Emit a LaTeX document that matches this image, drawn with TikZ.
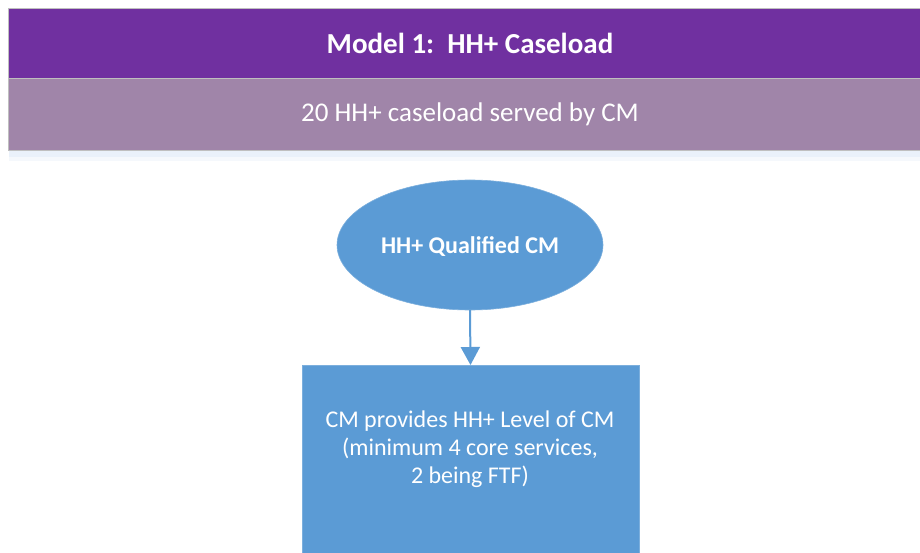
\documentclass[tikz,border=0pt]{standalone}
\usepackage{fontspec}
\setmainfont{Carlito}
\usetikzlibrary{arrows.meta}
\definecolor{hdrpurple}{HTML}{7030A0}
\definecolor{subpurple}{HTML}{A085A9}
\definecolor{cmblue}{HTML}{5B9BD5}
\definecolor{edgegray}{HTML}{BFBFBF}
\definecolor{glow}{HTML}{EAF1FA}
\tikzset{
  band/.style={draw=edgegray, line width=0.8pt},
  bluefill/.style={fill=cmblue, draw=cmblue!80!white, line width=0.6pt},
  whitetext/.style={text=white, align=center, inner sep=0pt},
  conn/.style={draw=cmblue, line width=2pt, -{Triangle[length=18pt,width=19pt]}}
}
\begin{document}
\begin{tikzpicture}[x=1pt,y=-1pt]
\useasboundingbox (0,0) rectangle (920,553);
% glow under banner
\fill[glow] (9,150) rectangle (925,157);
\fill[glow!50!white] (9,157) rectangle (925,161);
% banners
\path[band, fill=hdrpurple] (8.5,8) rectangle (925,78);
\path[band, fill=subpurple] (8.5,78) rectangle (925,150);
\node[whitetext, font=\fontsize{29}{33}\selectfont\bfseries] (title) at (470,43) {Model 1:\ \ HH+ Caseload};
\node[whitetext, font=\fontsize{27}{31}\selectfont] (sub) at (470,114) {20 HH+ caseload served by CM};
% ellipse
\path[bluefill] (470,245) ellipse [x radius=133, y radius=65];
\node[whitetext, font=\fontsize{24}{28}\selectfont\bfseries] (qcm) at (470,247) {HH+ Qualified CM};
\coordinate (qcmbot) at (470,310);
% rectangle
\node[bluefill, rectangle, minimum width=337pt, minimum height=240pt, inner sep=0pt, anchor=north] (box) at (470.5,365) {};
\node[whitetext, font=\fontsize{24}{28}\selectfont] (boxtext) at (470,449) {CM provides HH+ Level of CM\\(minimum 4 core services,\\2 being FTF)};
\draw[conn] (qcmbot) -- (box.north);
\end{tikzpicture}
\end{document}
